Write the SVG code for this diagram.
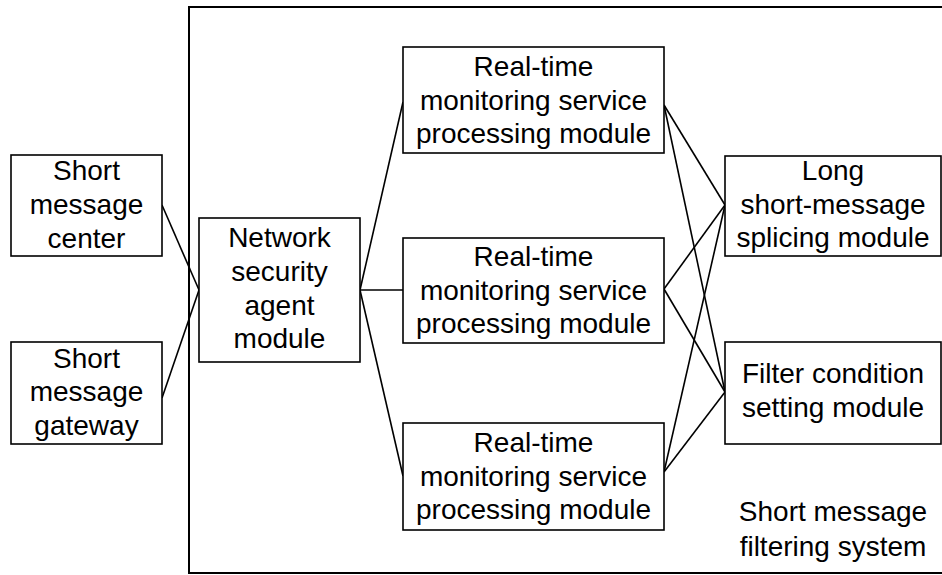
<svg xmlns="http://www.w3.org/2000/svg" width="942" height="575" viewBox="0 0 942 575">
<style>
.box{fill:#fff;stroke:#000;stroke-width:1.6}
.outer{fill:none;stroke:#000;stroke-width:2}
.ln{stroke:#000;stroke-width:1.6;fill:none}
text{font-family:"Liberation Sans",Arial,sans-serif;font-size:28px;fill:#000;text-anchor:middle}
</style>
<g id="system">
<rect class="outer" x="189" y="7" width="760" height="566"/>
<text x="833" y="521">Short message</text>
<text x="833" y="556">filtering system</text>
</g>
<g id="connectors">
<line class="ln" x1="162" y1="205" x2="199" y2="290"/>
<line class="ln" x1="162" y1="398" x2="199" y2="290"/>
<line class="ln" x1="360" y1="290" x2="403" y2="102"/>
<line class="ln" x1="360" y1="290" x2="403" y2="290"/>
<line class="ln" x1="360" y1="290" x2="403" y2="476"/>
<line class="ln" x1="664" y1="105" x2="725" y2="205"/>
<line class="ln" x1="664" y1="105" x2="725" y2="392"/>
<line class="ln" x1="664" y1="289" x2="725" y2="205"/>
<line class="ln" x1="664" y1="289" x2="725" y2="392"/>
<line class="ln" x1="664" y1="472" x2="725" y2="205"/>
<line class="ln" x1="664" y1="472" x2="725" y2="392"/>
</g>
<g id="smc">
<rect class="box" x="11" y="155" width="151" height="101"/>
<text x="86.5" y="180">Short</text>
<text x="86.5" y="214">message</text>
<text x="86.5" y="248">center</text>
</g>
<g id="smg">
<rect class="box" x="11" y="342" width="151" height="102"/>
<text x="86.5" y="368">Short</text>
<text x="86.5" y="401">message</text>
<text x="86.5" y="435">gateway</text>
</g>
<g id="nsa">
<rect class="box" x="199" y="218" width="161" height="144"/>
<text x="279.5" y="247">Network</text>
<text x="279.5" y="281">security</text>
<text x="279.5" y="315">agent</text>
<text x="279.5" y="348">module</text>
</g>
<g id="rtm1">
<rect class="box" x="403" y="47" width="261" height="106"/>
<text x="533.5" y="76">Real-time</text>
<text x="533.5" y="110">monitoring service</text>
<text x="533.5" y="143">processing module</text>
</g>
<g id="rtm2">
<rect class="box" x="403" y="238" width="261" height="105"/>
<text x="533.5" y="266">Real-time</text>
<text x="533.5" y="300">monitoring service</text>
<text x="533.5" y="333">processing module</text>
</g>
<g id="rtm3">
<rect class="box" x="403" y="423" width="261" height="107"/>
<text x="533.5" y="452">Real-time</text>
<text x="533.5" y="486">monitoring service</text>
<text x="533.5" y="519">processing module</text>
</g>
<g id="splice">
<rect class="box" x="725" y="156" width="216" height="100"/>
<text x="833" y="180">Long</text>
<text x="833" y="214">short-message</text>
<text x="833" y="247">splicing module</text>
</g>
<g id="filter">
<rect class="box" x="725" y="342" width="216" height="102"/>
<text x="833" y="383">Filter condition</text>
<text x="833" y="417">setting module</text>
</g>
</svg>
